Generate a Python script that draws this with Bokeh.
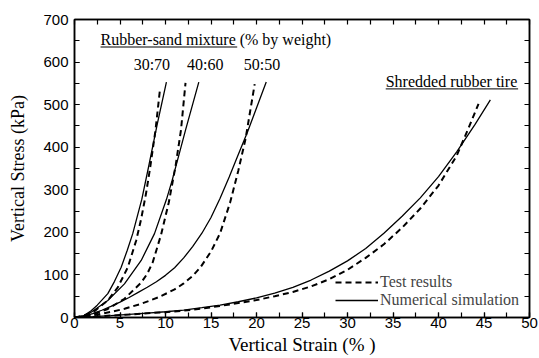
from bokeh.plotting import figure
from bokeh.models import (LinearAxis, SingleIntervalTicker, FixedTicker, Legend, LegendItem, Label, Range1d)
from bokeh.embed import file_html
from bokeh.resources import INLINE

# ---- data (strain %, stress kPa) ----
s3070_sim_x = [0, 1.0, 1.83, 2.5, 3.66, 4.4, 5.13, 5.8, 6.4, 7.4, 8.2, 9.1, 10.1]
s3070_sim_y = [0, 4, 16, 29, 56, 85, 118, 158, 197, 278, 360, 455, 553]
s3070_test_x = [0, 1.0, 2.2, 3.66, 4.76, 5.86, 6.78, 7.33, 7.85, 8.3, 8.9, 9.4]
s3070_test_y = [0, 4, 15, 40, 71, 118, 181, 232, 290, 350, 440, 537]

s4060_sim_x = [0, 1.0, 1.83, 3.66, 5.49, 7.33, 8.79, 10.1, 10.73, 12.2, 13.66]
s4060_sim_y = [0, 4, 12.5, 40, 79, 134, 197, 277, 322, 440, 553]
s4060_test_x = [0, 1.8, 3.66, 5.49, 7.33, 8.0, 8.6, 9.52, 10.36, 11.1, 11.7, 12.2]
s4060_test_y = [0, 6, 20, 44, 82, 103, 130, 195, 270, 355, 440, 551]

s5050_sim_x = [0, 1, 2, 3, 4, 5, 6, 7, 8, 9, 10, 11, 12, 13, 14, 15, 16, 17, 18, 19, 20, 21.07]
s5050_sim_y = [0, 3, 9, 17, 26, 36, 47, 59, 71, 84, 99, 117, 140, 167, 198, 235, 280, 330, 383, 435, 492, 553]
s5050_test_x = [0, 1.5, 2.9, 4.2, 5.5, 7.3, 9.3, 11.0, 12.0, 13.0, 13.85, 15.0, 16.0, 17.1, 18.0, 18.8, 19.8]
s5050_test_y = [0, 3, 8.7, 14, 20.5, 32, 48, 66, 80, 98, 118, 155, 198, 270, 345, 420, 548]

tire_sim_x = [0, 2, 4, 6, 8, 10, 12, 14, 16, 18, 20, 22, 24, 26, 28, 30, 32, 34, 36, 38, 40, 42, 44, 45.7]
tire_sim_y = [0, 2, 4.5, 7.5, 10.5, 13.5, 17.5, 23, 29, 37, 46, 57, 71, 88, 109, 133, 162, 198, 238, 281, 331, 389, 453, 511]
tire_test_x = [0, 2, 4, 6, 8, 10, 12, 14, 16, 18, 20, 22, 24, 26, 28, 30, 32, 34, 36, 38, 40, 42, 43.3, 44.4]
tire_test_y = [0, 2, 4.5, 7, 10, 12.5, 16, 21, 27, 34, 41, 50, 60, 73, 90, 112, 140, 172, 211, 256, 310, 380, 445, 502]

mix_labels = ["30:70", "40:60", "50:50"]
legend_labels = ["Test results", "Numerical simulation"]

SERIF = "Liberation Serif"
SANS = "Liberation Sans"

p = figure(width=539, height=358, x_range=Range1d(0, 50), y_range=Range1d(0, 700),
           output_backend="svg", toolbar_location=None,
           min_border_left=74, min_border_right=10, min_border_top=19, min_border_bottom=41)
p.xgrid.visible = False
p.ygrid.visible = False
p.outline_line_color = "black"
p.outline_line_width = 1.5
p.background_fill_color = "white"

p.xaxis.ticker = SingleIntervalTicker(interval=5, num_minor_ticks=2)
p.yaxis.ticker = SingleIntervalTicker(interval=100, num_minor_ticks=2)

def style_axis(ax):
    ax.major_tick_in = 5
    ax.major_tick_out = 0
    ax.minor_tick_in = 5
    ax.minor_tick_out = 0
    ax.axis_line_width = 1.5
    ax.major_tick_line_width = 1.2
    ax.minor_tick_line_width = 1.2

style_axis(p.xaxis[0])
style_axis(p.yaxis[0])
for ax in (p.xaxis[0], p.yaxis[0]):
    ax.major_label_text_font = SANS
    ax.major_label_text_font_size = "15px"
    ax.major_label_text_color = "black"
p.xaxis.major_label_standoff = 0
p.yaxis.major_label_standoff = 6
p.xaxis.axis_label = "Vertical Strain (% )"
p.yaxis.axis_label = "Vertical Stress (kPa)"
for ax, sz in ((p.xaxis[0], "19px"), (p.yaxis[0], "18px")):
    ax.axis_label_text_font = SERIF
    ax.axis_label_text_font_style = "normal"
    ax.axis_label_text_font_size = sz
    ax.axis_label_text_color = "black"
p.xaxis.axis_label_standoff = 3
p.yaxis.axis_label_standoff = 12

# top / right axes: ticks only (minor ticks carry no labels)
x_tick_pos = [i * 2.5 for i in range(21)]
y_tick_pos = [i * 50 for i in range(15)]
top = LinearAxis(ticker=FixedTicker(ticks=[], minor_ticks=x_tick_pos))
right = LinearAxis(ticker=FixedTicker(ticks=[], minor_ticks=y_tick_pos))
style_axis(top)
style_axis(right)
p.add_layout(top, "above")
p.add_layout(right, "right")

dash_kw = dict(line_color="black", line_width=2, line_dash="6 4")
sol_kw = dict(line_color="black", line_width=1.3)

tests = [(s3070_test_x, s3070_test_y), (s4060_test_x, s4060_test_y),
         (s5050_test_x, s5050_test_y), (tire_test_x, tire_test_y)]
sims = [(s3070_sim_x, s3070_sim_y), (s4060_sim_x, s4060_sim_y),
        (s5050_sim_x, s5050_sim_y), (tire_sim_x, tire_sim_y)]
test_rs = [p.line(x, y, **dash_kw) for x, y in tests]
sim_rs = [p.line(x, y, **sol_kw) for x, y in sims]

legend = Legend(items=[LegendItem(label=legend_labels[0], renderers=[test_rs[0]]),
                       LegendItem(label=legend_labels[1], renderers=[sim_rs[0]])],
                location=(261, 8), glyph_width=43, glyph_height=18, label_height=18,
                label_standoff=2, spacing=0, padding=0, margin=0,
                border_line_color=None, background_fill_alpha=0,
                label_text_font=SERIF, label_text_font_size="16px")
p.add_layout(legend, "center")

txt = dict(text_font=SERIF, text_font_size="16px", text_color="black", text_baseline="middle")
p.add_layout(Label(x=2.86, y=653, text="Rubber-sand mixture", **txt))
p.add_layout(Label(x=18.15, y=653, text="(% by weight)", **txt))
mix_x = [8.5, 14.36, 20.6]
for lx, t in zip(mix_x, mix_labels):
    p.add_layout(Label(x=lx, y=594, text=t, text_align="center", **txt))
p.add_layout(Label(x=34.2, y=554, text="Shredded rubber tire", **txt))
p.segment(x0=[2.86, 34.2], y0=[635.4, 537], x1=[17.88, 48.75], y1=[635.4, 537],
          line_color="black", line_width=1)

open("out.html", "w").write(file_html(p, INLINE))
